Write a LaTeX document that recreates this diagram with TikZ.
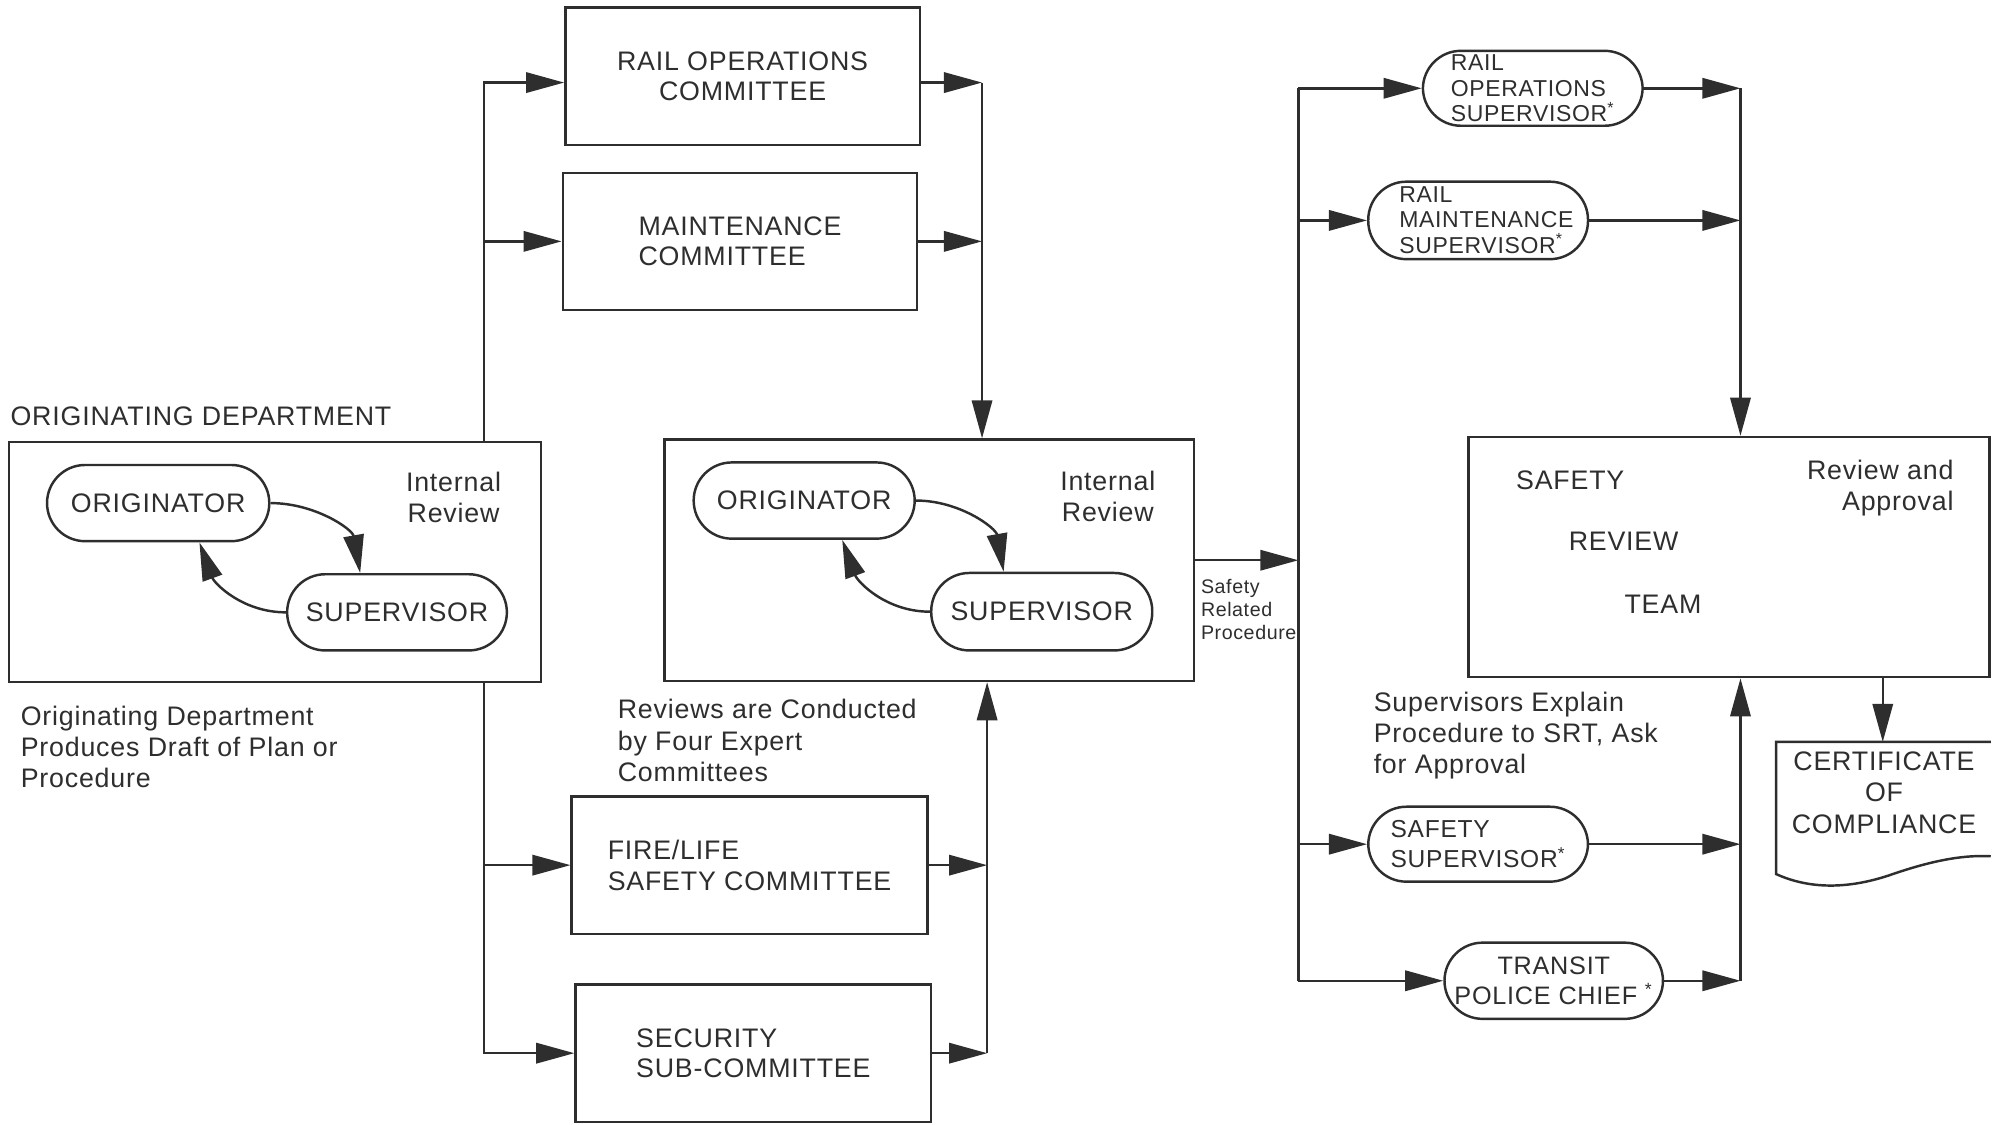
\documentclass[tikz,border=0pt]{standalone}
\usepackage{fontspec}
\setmainfont[LetterSpace=3]{Liberation Sans}
\usetikzlibrary{arrows.meta}
\definecolor{ink}{HTML}{2E2E2E}
\begin{document}
\begin{tikzpicture}[x=0.02cm,y=-0.02cm,
  box/.style={draw=ink, line width=1.1pt, rectangle, inner sep=0pt, align=center, text=ink, font=\fontsize{12}{13.7}\selectfont},
  pill/.style={box, rounded corners=0.6cm},
  rpill/.style={pill, font=\fontsize{10.3}{11.4}\selectfont, align=left},
  lbl/.style={inner sep=0pt, text=ink, font=\fontsize{12}{14}\selectfont},
  small/.style={inner sep=0pt, text=ink, align=left, font=\fontsize{8.8}{10.3}\selectfont},
  ln/.style={draw=ink, line width=1.1pt},
  arr/.style={ln, -{Triangle[length=0.6cm,width=0.32cm]}}]
\useasboundingbox (0,0) rectangle (1568,885);

% left: originating department
\node[lbl, anchor=west] (orighdr) at (8,328) {ORIGINATING DEPARTMENT};
\node[box, minimum width=8.38cm, minimum height=3.78cm] (origbox) at (216.5,442.5) {};
\node[pill, minimum width=3.5cm, minimum height=1.2cm] (orig1) at (124.5,396) {ORIGINATOR};
\node[pill, minimum width=3.46cm, minimum height=1.2cm] (sup1) at (312.5,482) {SUPERVISOR};
\node[lbl, align=center] (ir1) at (357,391.5) {Internal\\Review};
\node[lbl, align=left, anchor=west] (note1) at (16,588) {Originating Department\\Produces Draft of Plan or\\Procedure};

% committees
\node[box, minimum width=5.58cm, minimum height=2.16cm] (railops) at (584.5,60) {RAIL OPERATIONS\\COMMITTEE};
\node[box, align=left, minimum width=5.58cm, minimum height=2.16cm] (maint) at (582.5,190) {MAINTENANCE\\COMMITTEE};
\node[box, align=left, minimum width=5.6cm, minimum height=2.16cm] (fire) at (590,681) {FIRE/LIFE\\SAFETY COMMITTEE};
\node[box, align=left, minimum width=5.6cm, minimum height=2.16cm] (sec) at (593,829) {SECURITY\\SUB-COMMITTEE};

% middle box
\node[box, minimum width=8.34cm, minimum height=3.8cm] (midbox) at (731.5,441) {};
\node[pill, minimum width=3.48cm, minimum height=1.2cm] (orig2) at (633,394) {ORIGINATOR};
\node[pill, minimum width=3.48cm, minimum height=1.22cm] (sup2) at (820,481.5) {SUPERVISOR};
\node[lbl, align=center] (ir2) at (872,391) {Internal\\Review};
\node[lbl, align=left, anchor=west] (note2) at (486,583) {Reviews are Conducted\\by Four Expert\\Committees};
\node[small, anchor=west] (srp) at (945,480) {Safety\\Related\\Procedure};

% supervisors
\node[rpill, minimum width=3.46cm, minimum height=1.18cm] (ros) at (1206.5,69.5) {RAIL\\OPERATIONS\\SUPERVISOR\textsuperscript{*}};
\node[rpill, minimum width=3.46cm, minimum height=1.22cm] (rms) at (1163.5,173.5) {};
\node[inner sep=0pt, text=ink, align=left, font=\fontsize{10.3}{11.4}\selectfont] (rmstext) at (1170,173) {RAIL\\MAINTENANCE\\SUPERVISOR\textsuperscript{*}};
\node[rpill, font=\fontsize{11}{13.7}\selectfont, minimum width=3.46cm, minimum height=1.18cm] (ss) at (1163.5,664.5) {SAFETY\\SUPERVISOR\textsuperscript{*}};
\node[rpill, align=center, font=\fontsize{11.3}{13.7}\selectfont, minimum width=3.44cm, minimum height=1.2cm] (tpc) at (1223,772) {TRANSIT\\POLICE CHIEF \textsuperscript{*}};
\node[lbl, align=left, anchor=west] (note3) at (1081,579) {Supervisors Explain\\Procedure to SRT, Ask\\for Approval};

% safety review team
\node[box, minimum width=8.2cm, minimum height=3.78cm] (srt) at (1361,438.5) {};
\node[lbl] (t1) at (1236,378) {SAFETY};
\node[lbl] (t2) at (1278,426) {REVIEW};
\node[lbl] (t3) at (1309,476) {TEAM};
\node[lbl, align=right, anchor=east] (rna) at (1538,384) {Review and\\Approval};

% certificate
\node[lbl, align=center] (cert) at (1483,624) {CERTIFICATE\\OF\\COMPLIANCE};
\coordinate (certtop) at (1482,584);
\draw[ln] (1567,584) -- (1398,584) -- (1398,688)
  .. controls (1420,698) and (1450,702) .. (1490,688)
  .. controls (1525,676) and (1548,673) .. (1567,674);

% trunk coordinates
\coordinate (L) at (381,0);
\coordinate (C1) at (773,0);
\coordinate (C2) at (777,0);
\coordinate (R) at (1022,0);
\coordinate (C3) at (1370,0);
\coordinate (CX) at (1482,0);

% internal review loops
\draw[arr] (orig1.east) to[out=0,in=100] ([xshift=-0.58cm]sup1.north);
\draw[arr] (sup1.west) to[out=180,in=-70] ([xshift=0.65cm]orig1.south);
\draw[arr] (orig2.east) to[out=0,in=100] ([xshift=-0.6cm]sup2.north);
\draw[arr] (sup2.west) to[out=180,in=-70] ([xshift=0.6cm]orig2.south);

% left distribution
\draw[arr] (origbox.north -| L) |- ([yshift=-0.1cm]railops.west);
\draw[arr] (origbox.north -| L) |- (maint.west);
\draw[arr] (origbox.south -| L) |- (fire.west);
\draw[arr] (origbox.south -| L) |- (sec.west);

% committee returns
\draw[arr] ([yshift=-0.1cm]railops.east) -- ([yshift=-0.1cm]railops.east -| C1);
\draw[arr] (maint.east) -- (maint.east -| C1);
\draw[arr] ([yshift=-0.1cm]railops.east -| C1) -- (midbox.north -| C1);
\draw[arr] (fire.east) -- (fire.east -| C2);
\draw[arr] (sec.east) -- (sec.east -| C2);
\draw[arr] (sec.east -| C2) -- (midbox.south -| C2);

% right distribution
\draw[arr] (midbox.east) -- (midbox.east -| R);
\draw[ln] (ros.west -| R) -- (tpc.west -| R);
\draw[arr] (ros.west -| R) -- (ros.west);
\draw[arr] (rms.west -| R) -- (rms.west);
\draw[arr] (ss.west -| R) -- (ss.west);
\draw[arr] (tpc.west -| R) -- (tpc.west);

% supervisors to SRT
\draw[arr] (ros.east) -- (ros.east -| C3);
\draw[arr] (rms.east) -- (rms.east -| C3);
\draw[arr] (ros.east -| C3) -- (srt.north -| C3);
\draw[arr] (ss.east) -- (ss.east -| C3);
\draw[arr] (tpc.east) -- (tpc.east -| C3);
\draw[arr] (tpc.east -| C3) -- (srt.south -| C3);

% SRT to certificate
\draw[arr] (srt.south -| CX) -- (certtop);
\end{tikzpicture}
\end{document}
